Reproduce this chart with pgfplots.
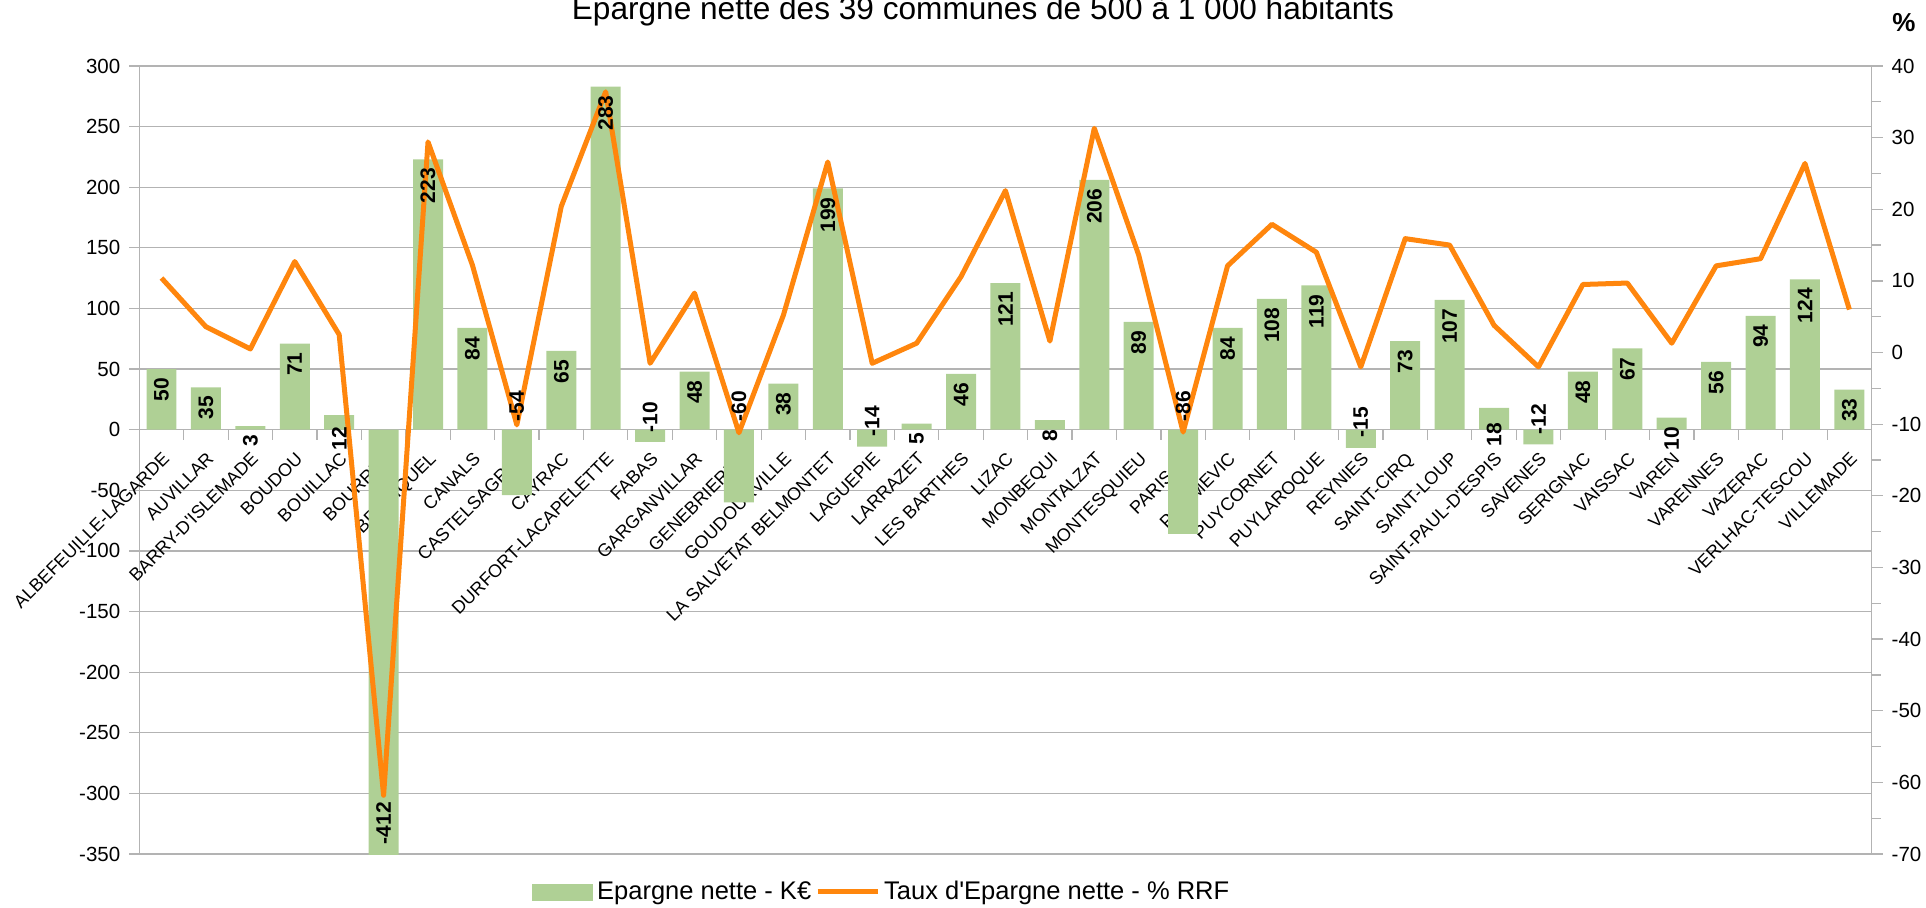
\documentclass[border=0pt]{standalone}
\usepackage{fontspec}
\setmainfont{Liberation Sans}[Ligatures=TeXOff]
\usepackage{pgfplots}
\usepackage{pgfplotstable}
\pgfplotsset{compat=1.18}
\definecolor{barg}{HTML}{AFD095}
\definecolor{lineo}{HTML}{FF860D}
\definecolor{gridg}{HTML}{B3B3B3}

\pgfplotstableread{
x v p
1 50 10.4
2 35 3.6
3 3 0.5
4 71 12.7
5 12 2.5
6 -412 -61.8
7 223 29.4
8 84 12.2
9 -54 -10.1
10 65 20.4
11 283 36.4
12 -10 -1.5
13 48 8.3
14 -60 -11.2
15 38 5.2
16 199 26.6
17 -14 -1.5
18 5 1.3
19 46 10.6
20 121 22.6
21 8 1.6
22 206 31.3
23 89 13.6
24 -86 -11.1
25 84 12.1
26 108 17.9
27 119 14.0
28 -15 -2.0
29 73 15.9
30 107 15.0
31 18 3.8
32 -12 -2.0
33 48 9.5
34 67 9.7
35 10 1.3
36 56 12.1
37 94 13.1
38 124 26.4
39 33 6.0
}\data

% label positions (top end of the label) for positive values
\pgfplotstableread{
x v ly
1 50 43
2 35 28
3 3 -4.1
4 71 64
5 12 2.5
7 223 216
8 84 77
10 65 58
11 283 276
13 48 41
15 38 31
16 199 192
18 5 -2.5
19 46 39
20 121 114
21 8 0
22 206 199
23 89 82
25 84 77
26 108 101
27 119 112
29 73 66
30 107 100
31 18 5.8
33 48 41
34 67 60
35 10 2.5
36 56 49
37 94 87
38 124 117
39 33 26
}\poslab

% label positions (bottom end of the label) for negative values
\pgfplotstableread{
x v ly
6 -412 -342.3
9 -54 6.6
12 -10 -2.5
14 -60 6.6
17 -14 -5.8
24 -86 6.6
28 -15 -6.6
32 -12 -4.1
}\neglab

\begin{document}
\begin{tikzpicture}
\path[use as bounding box] (-69.65pt,-26.5pt) rectangle (893.35pt,427pt);
\begin{axis}[
  at={(0pt,0pt)}, anchor=south west, scale only axis,
  width=866.15pt, height=394pt,
  xmin=0.5, xmax=39.5, ymin=-350, ymax=300,
  axis x line*=middle, axis y line*=left,
  axis line style={gridg, line width=0.6pt},
  ytick={-350,-300,...,300},
  ymajorgrids, grid style={gridg, line width=0.6pt},
  ytick align=outside, major tick length=5pt, minor tick length=5pt,
  ytick style={gridg, line width=0.6pt},
  xtick={1,...,39},
  xticklabels={ALBEFEUILLE-LAGARDE, AUVILLAR, BARRY-D'ISLEMADE, BOUDOU, BOUILLAC, BOURRET, BRUNIQUEL, CANALS, CASTELSAGRAT, CAYRAC, DURFORT-LACAPELETTE, FABAS, GARGANVILLAR, GENEBRIERES, GOUDOURVILLE, LA SALVETAT BELMONTET, LAGUEPIE, LARRAZET, LES BARTHES, LIZAC, MONBEQUI, MONTALZAT, MONTESQUIEU, PARISOT, POMMEVIC, PUYCORNET, PUYLAROQUE, REYNIES, SAINT-CIRQ, SAINT-LOUP, SAINT-PAUL-D'ESPIS, SAVENES, SERIGNAC, VAISSAC, VAREN, VARENNES, VAZERAC, VERLHAC-TESCOU, VILLEMADE},
  major x tick style={draw=none},
  minor xtick={0.5,1.5,...,39.5},
  minor x tick style={gridg, line width=0.6pt},
  xtick align=outside,
  yticklabel style={font=\fontsize{10.25}{12}\selectfont, xshift=-1pt},
  xticklabel style={font=\fontsize{9}{10}\selectfont, inner sep=0pt, xshift=0pt, yshift=-5.5pt, rotate=45, anchor=north east},
  /pgf/number format/assume math mode=true,
]
\addplot[ybar, bar width=0.675, fill=barg, draw=none] table[x=x,y=v]{\data};
\end{axis}
\begin{axis}[
  at={(0pt,0pt)}, anchor=south west, scale only axis,
  width=866.15pt, height=394pt,
  xmin=0.5, xmax=39.5, ymin=-70, ymax=40,
  axis y line*=right, axis x line=none,
  axis line style={gridg, line width=0.6pt},
  ytick={-70,-60,...,40}, minor ytick={-65,-55,...,35},
  ytick align=outside, major tick length=5.5pt, minor tick length=4.5pt,
  ytick style={gridg, line width=0.6pt},
  yticklabel style={font=\fontsize{10.25}{12}\selectfont, xshift=1pt},
  /pgf/number format/assume math mode=true,
  legend style={at={(0.4292,-0.0482)}, anchor=center, draw=none, fill=none,
    legend columns=2, font=\fontsize{12.75}{14}\selectfont,
    /tikz/every even column/.append style={column sep=0pt}},
  legend cell align=left,
]
\addlegendimage{legend image code/.code={\fill[barg] (0pt,-4pt) rectangle (30pt,4pt);}}
\addlegendentry{Epargne nette - K€}
\addplot[lineo, line width=2.5pt, line join=round,
  legend image code/.code={\draw[lineo, line width=2.5pt] (0pt,0pt) -- (30pt,0pt);}]
  table[x=x,y=p]{\data};
\addlegendentry{Taux d'Epargne nette - \% RRF}
\end{axis}
\begin{axis}[
  at={(0pt,0pt)}, anchor=south west, scale only axis,
  width=866.15pt, height=394pt,
  xmin=0.5, xmax=39.5, ymin=-350, ymax=300, hide axis,
]
\addplot[draw=none, mark=none, nodes near coords, point meta=explicit symbolic,
  nodes near coords style={anchor=east, rotate=90, inner sep=0pt,
    font=\bfseries\fontsize{10.5}{12}\selectfont, text=black}]
  table[x=x, y=ly, meta=v]{\poslab};
\addplot[draw=none, mark=none, nodes near coords, point meta=explicit symbolic,
  nodes near coords style={anchor=west, rotate=90, inner sep=0pt,
    font=\bfseries\fontsize{10.5}{12}\selectfont, text=black}]
  table[x=x, y=ly, meta=v]{\neglab};
\end{axis}
\node[anchor=base, font=\fontsize{15.8}{18}\selectfont] at (421.85pt,417pt) {Epargne nette des 39 communes de 500 à 1 000 habitants};
\node[font=\bfseries\fontsize{13}{15}\selectfont] at (882.35pt,415.5pt) {\%};
\end{tikzpicture}
\end{document}
